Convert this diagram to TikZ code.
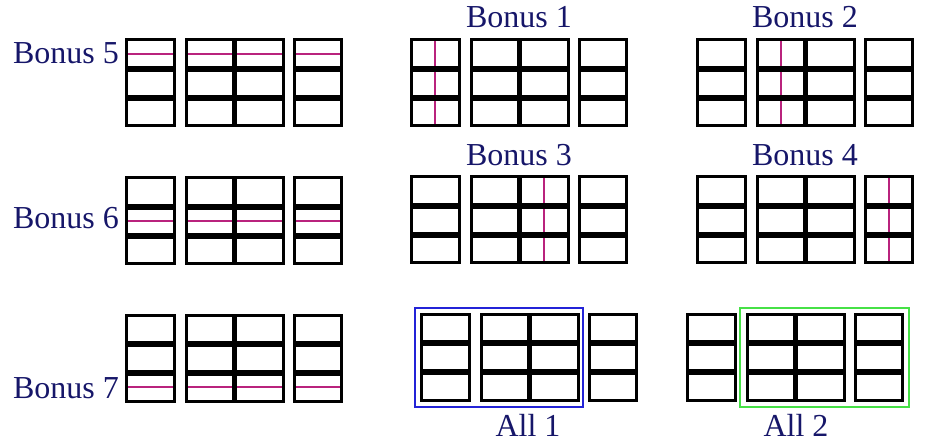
\documentclass[tikz,border=0pt]{standalone}
\usepackage{fontspec}
\setmainfont{Liberation Serif}
\usepackage{tikz}
\usetikzlibrary{positioning}

\definecolor{labelnavy}{RGB}{22,22,105}
\definecolor{pinkline}{RGB}{185,35,125}
\definecolor{frameblue}{RGB}{35,35,215}
\definecolor{framegreen}{RGB}{70,225,70}

\begin{document}
\begin{tikzpicture}[x=1pt, y=-1pt,
    cellbox/.style={draw, line width=3pt},
    divider/.style={draw, line width=5.2pt},
    marker/.style={draw=pinkline, line width=2.4pt},
    lbl/.style={text=labelnavy, inner sep=0pt, font=\fontsize{32}{36}\selectfont}]
    \useasboundingbox (0,0) rectangle (925,443);

    % highlighted rows and columns
    \foreach \gx/\gy/\my in {126/40/14, 126/178/43, 126/315/72} {
        \draw[marker] (\gx,\gy+\my) -- ++(48,0);
        \draw[marker] (\gx+60,\gy+\my) -- ++(97,0);
        \draw[marker] (\gx+168,\gy+\my) -- ++(47,0);
    }
    \draw[marker] (435,40) -- (435,126);
    \draw[marker] (781,40) -- (781,126);
    \draw[marker] (544,177) -- (544,263);
    \draw[marker] (889,177) -- (889,263);

    % the nine groups of boxes
    \foreach \gx/\gy in {126/40, 411/40, 697/40, 126/178, 411/177, 697/177, 126/315, 421/314, 687/314} {
        \begin{scope}[shift={(\gx,\gy)}]
            \foreach \ry in {29,58} {
                \draw[divider] (0,\ry) -- (48,\ry);
                \draw[divider] (60,\ry) -- (157,\ry);
                \draw[divider] (168,\ry) -- (215,\ry);
            }
            \draw[divider] (108.5,0) -- (108.5,86);
            \draw[cellbox] (0,0) rectangle (48,86);
            \draw[cellbox] (60,0) rectangle (157,86);
            \draw[cellbox] (168,0) rectangle (215,86);
        \end{scope}
    }

    % frames
    \draw[frameblue, line width=2.8pt] (415,308) rectangle (583,407);
    \draw[framegreen, line width=2.8pt] (740,308) rectangle (909,407);

    % labels
    \node (bonus5) [lbl, anchor=base east] at (119,64) {Bonus 5};
    \node (bonus6) [lbl, anchor=base east] at (119,229) {Bonus 6};
    \node (bonus7) [lbl, anchor=base east] at (119,398) {Bonus 7};
    \node (bonus1) [lbl, anchor=base] at (519,28) {Bonus 1};
    \node (bonus2) [lbl, anchor=base] at (805,28) {Bonus 2};
    \node (bonus3) [lbl, anchor=base] at (519,166) {Bonus 3};
    \node (bonus4) [lbl, anchor=base] at (805,166) {Bonus 4};
    \node (all1) [lbl, anchor=base] at (528,436) {All 1};
    \node (all2) [lbl, anchor=base] at (796,436) {All 2};
\end{tikzpicture}
\end{document}
